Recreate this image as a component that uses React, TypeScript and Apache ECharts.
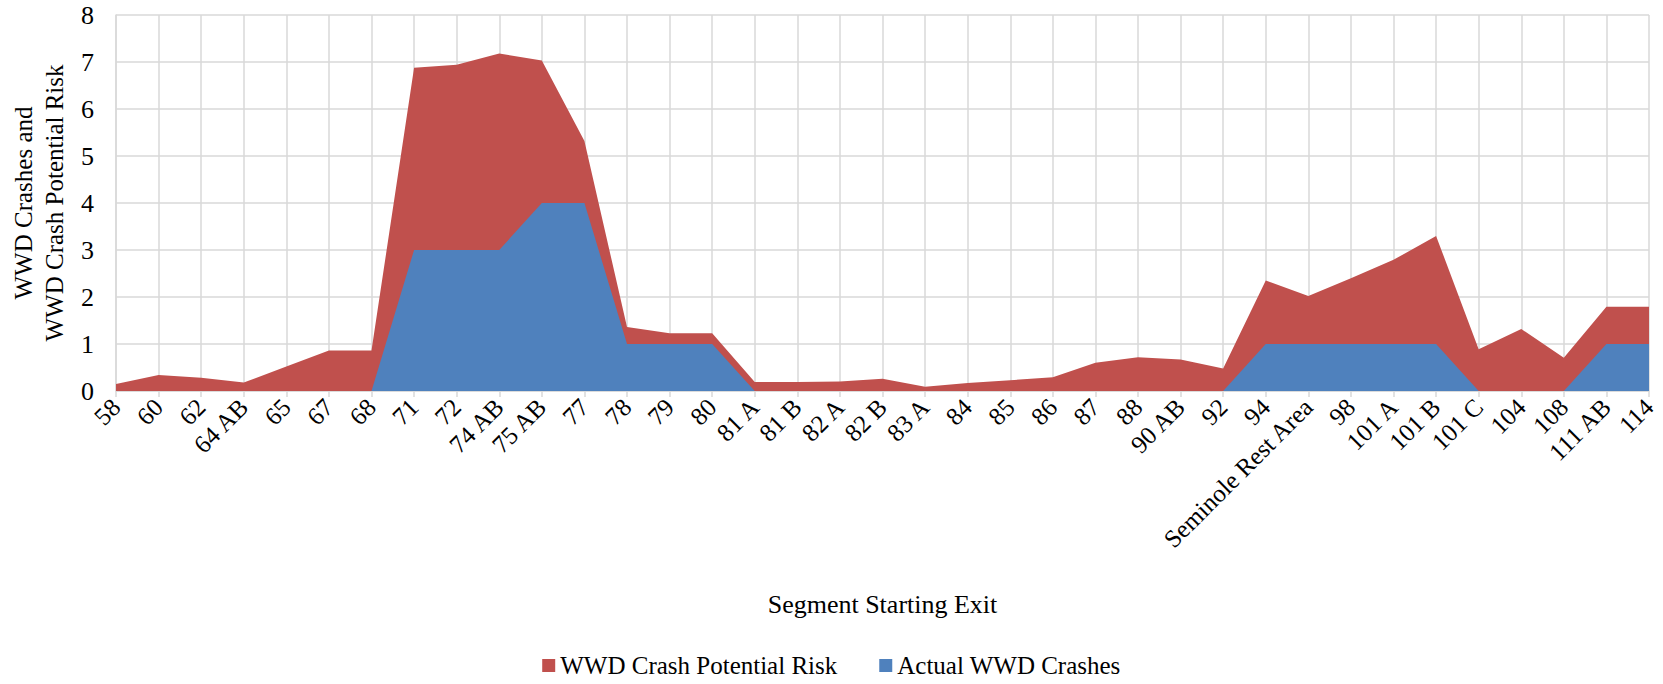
import React, { useEffect, useRef } from "react";
import * as echarts from "echarts";

const categories = [
  "58", "60", "62", "64 AB", "65", "67", "68", "71", "72", "74 AB", "75 AB", "77",
  "78", "79", "80", "81 A", "81 B", "82 A", "82 B", "83 A", "84", "85", "86", "87",
  "88", "90 AB", "92", "94", "Seminole Rest Area", "98", "101 A", "101 B", "101 C",
  "104", "108", "111 AB", "114",
];

const potentialRisk = [
  0.15, 0.34, 0.28, 0.18, 0.52, 0.86, 0.86, 6.88, 6.94, 7.18, 7.03, 5.32,
  1.36, 1.23, 1.23, 0.19, 0.19, 0.2, 0.26, 0.09, 0.17, 0.23, 0.29, 0.6,
  0.72, 0.67, 0.48, 2.35, 2.02, 2.4, 2.79, 3.3, 0.89,
  1.32, 0.71, 1.79, 1.79,
];

const actualCrashes = [
  0, 0, 0, 0, 0, 0, 0, 3, 3, 3, 4, 4,
  1, 1, 1, 0, 0, 0, 0, 0, 0, 0, 0, 0,
  0, 0, 0, 1, 1, 1, 1, 1, 0,
  0, 0, 1, 1,
];

const yTicks = [0, 1, 2, 3, 4, 5, 6, 7, 8];

const FONT = "'Liberation Serif', 'Times New Roman', serif";
const GRID = "#d9d9d9";

export default function App() {
  const ref = useRef<HTMLDivElement>(null);

  useEffect(() => {
    document.body.style.margin = "0";
    if (!ref.current) return;
    const chart = echarts.init(ref.current, undefined, { renderer: "svg" });
    chart.setOption({
      animation: false,
      textStyle: { fontFamily: FONT, color: "#000" },
      grid: { left: 112, right: 14, top: 15, bottom: 293, containLabel: false },
      legend: {
        data: ["WWD Crash Potential Risk", "Actual WWD Crashes"],
        left: "center",
        top: 648,
        icon: "rect",
        itemWidth: 13,
        itemHeight: 13,
        itemGap: 42,
        textStyle: { fontFamily: FONT, fontSize: 25, color: "#000" },
      },
      xAxis: {
        type: "category",
        data: categories,
        boundaryGap: false,
        name: "Segment Starting Exit",
        nameLocation: "middle",
        nameGap: 200,
        nameTextStyle: { fontFamily: FONT, fontSize: 26, color: "#000" },
        axisLine: { show: true, lineStyle: { color: GRID, width: 1.5 } },
        axisTick: { show: true, length: 6, lineStyle: { color: GRID, width: 1.5 } },
        splitLine: { show: true, lineStyle: { color: GRID, width: 1.5 } },
        axisLabel: {
          interval: 0,
          rotate: 45,
          margin: 12,
          fontFamily: FONT,
          fontSize: 25,
          color: "#000",
        },
      },
      yAxis: {
        type: "value",
        min: yTicks[0],
        max: yTicks[yTicks.length - 1],
        interval: 1,
        name: "WWD Crashes and\nWWD Crash Potential Risk",
        nameLocation: "middle",
        nameGap: 46,
        nameTextStyle: { fontFamily: FONT, fontSize: 25, color: "#000", lineHeight: 31 },
        axisLine: { show: true, lineStyle: { color: GRID, width: 1.5 } },
        axisTick: { show: false },
        splitLine: { show: true, lineStyle: { color: GRID, width: 1.5 } },
        axisLabel: { margin: 22, fontFamily: FONT, fontSize: 26, color: "#000" },
      },
      series: [
        {
          name: "WWD Crash Potential Risk",
          type: "line",
          data: potentialRisk,
          symbol: "none",
          lineStyle: { width: 0 },
          itemStyle: { color: "#C0504D" },
          areaStyle: { color: "#C0504D", opacity: 1 },
        },
        {
          name: "Actual WWD Crashes",
          type: "line",
          data: actualCrashes,
          symbol: "none",
          lineStyle: { width: 0 },
          itemStyle: { color: "#4F81BD" },
          areaStyle: { color: "#4F81BD", opacity: 1 },
        },
      ],
    });
    return () => chart.dispose();
  }, []);

  return <div ref={ref} style={{ width: 1663, height: 684 }} />;
}
